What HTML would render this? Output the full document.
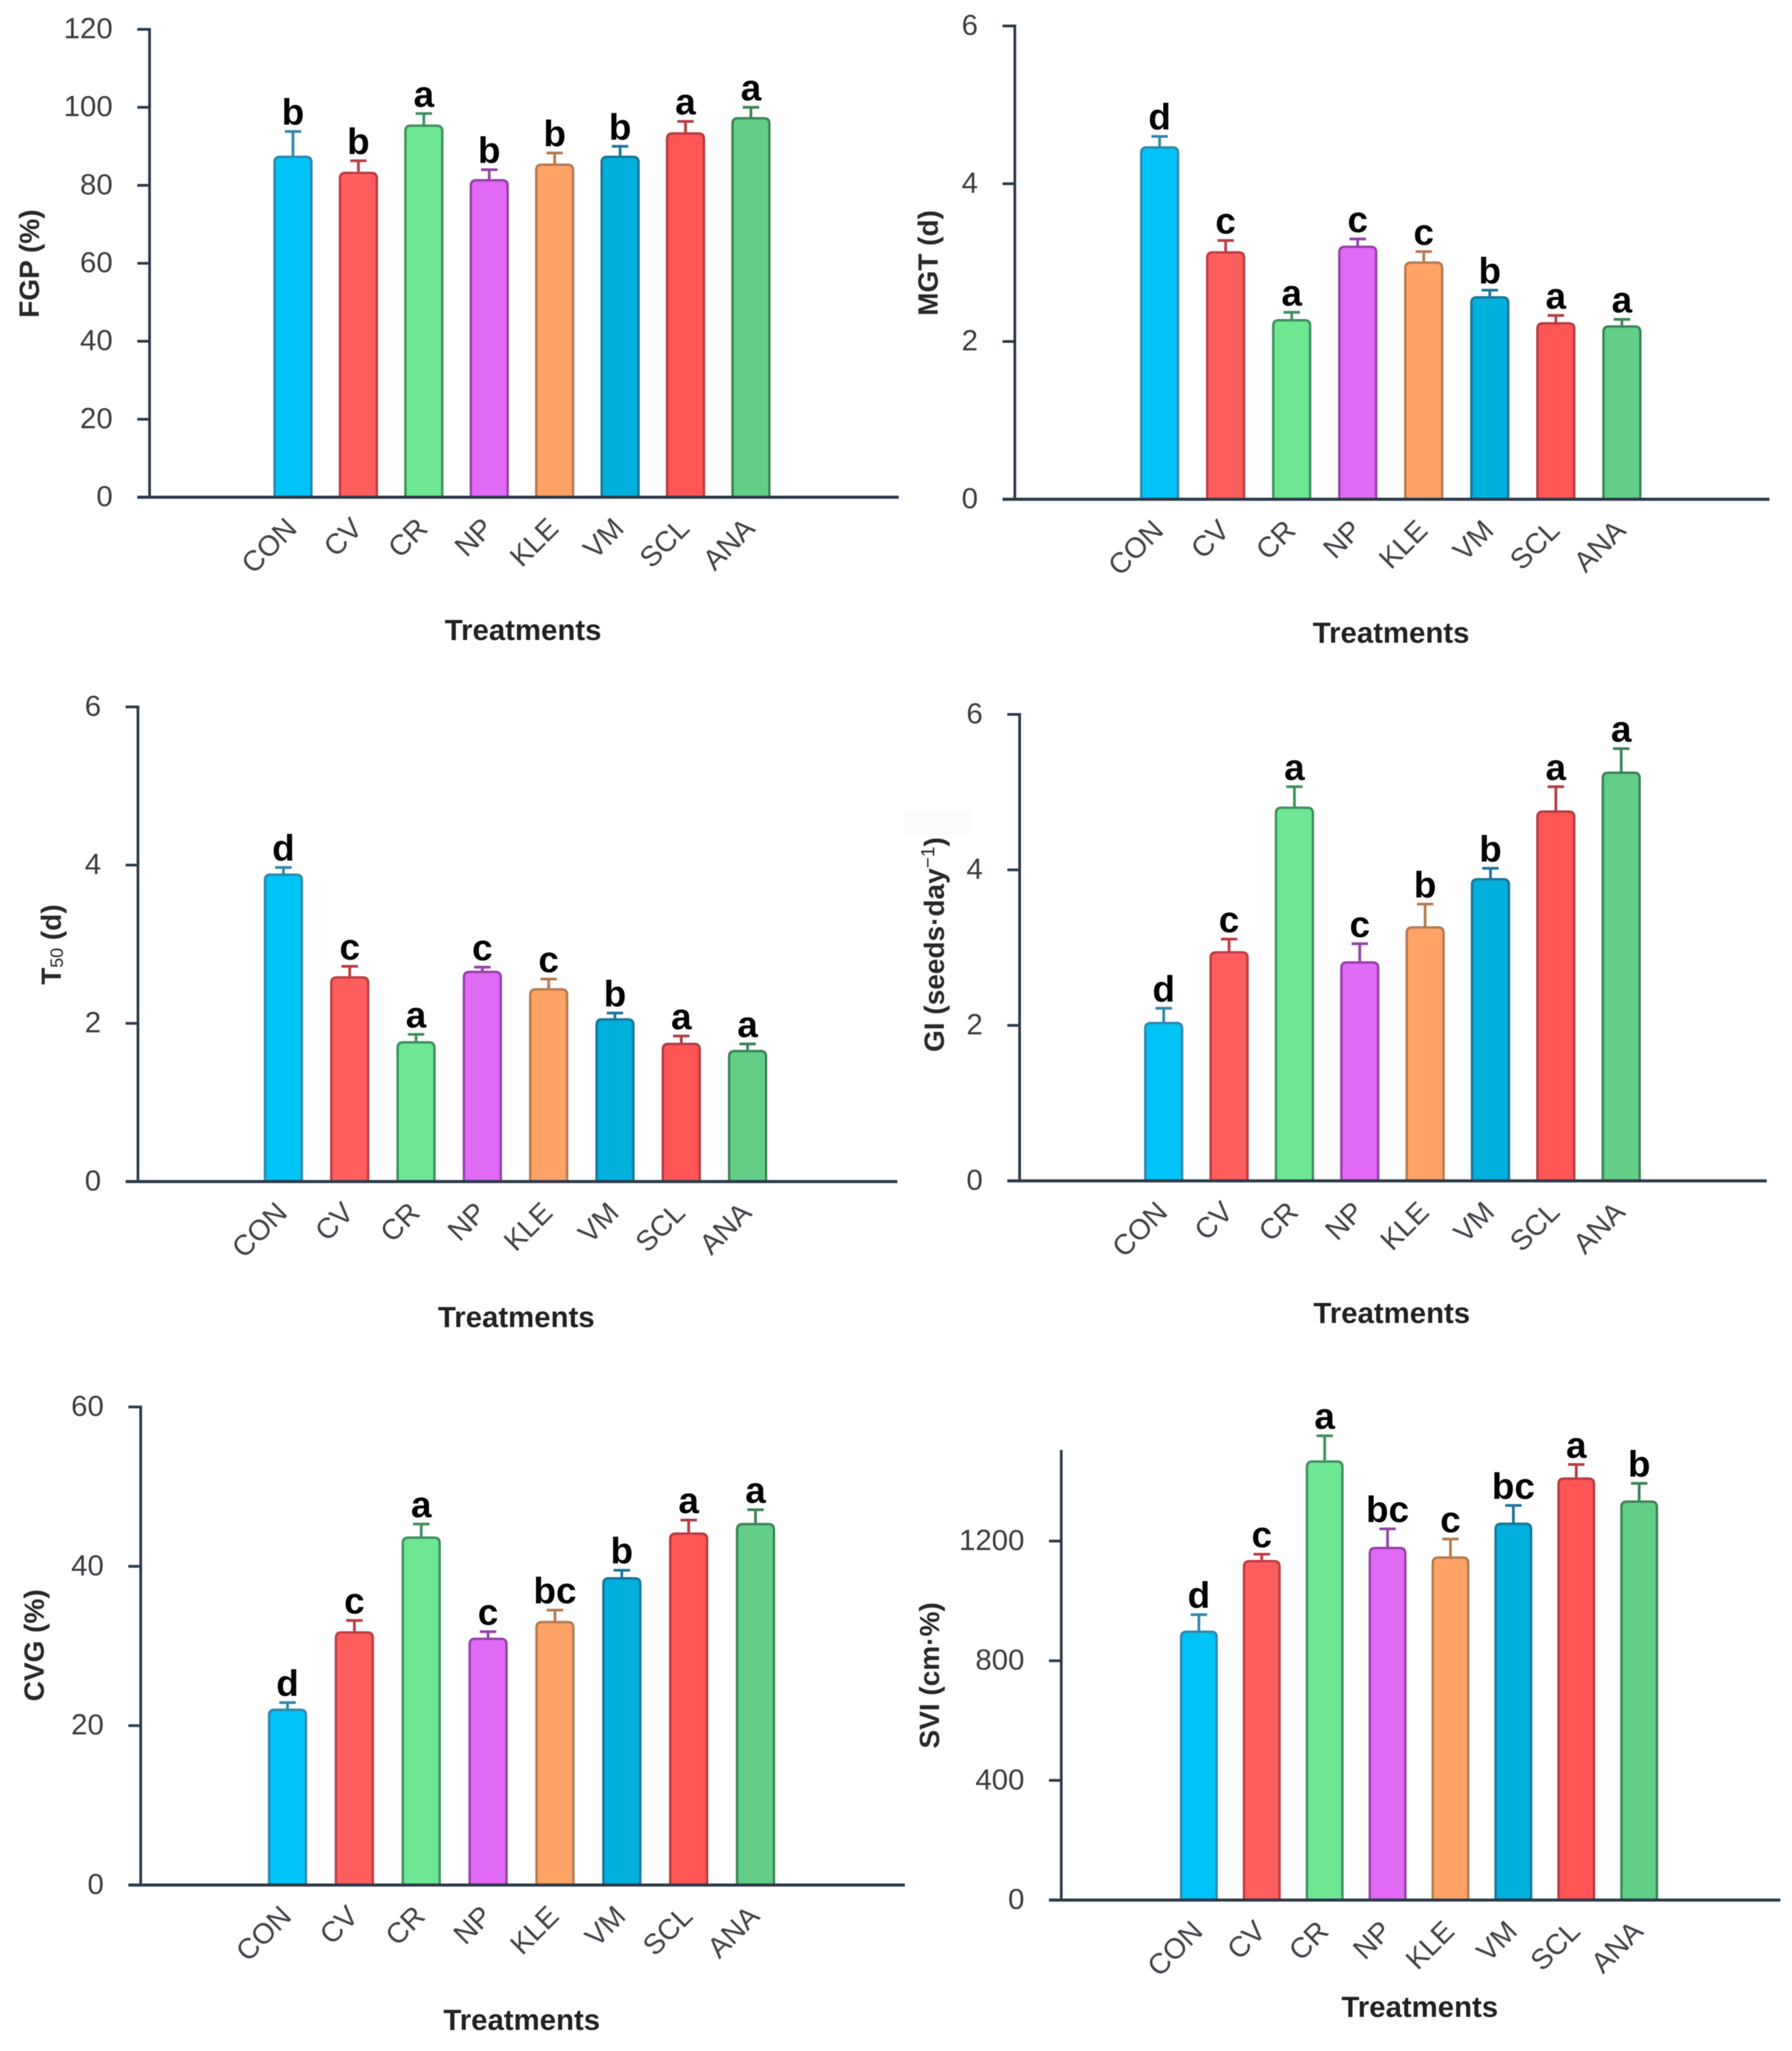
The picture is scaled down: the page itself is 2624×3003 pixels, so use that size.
<!DOCTYPE html>
<html lang="en">
<head>
<meta charset="utf-8">
<title>Germination treatment bar charts</title>
<style>
  html, body { margin: 0; padding: 0; background: #ffffff; }
  body { width: 2624px; height: 3003px; overflow: hidden; }
  svg { display: block; filter: blur(0.6px); }
  text { font-family: "Liberation Sans", sans-serif; }
  .tick { font-size: 43px; fill: #3a3d42; }
  .cat { font-size: 42px; fill: #404348; }
  .title { font-size: 41px; font-weight: 700; fill: #26282b; }
  .xtitle { font-size: 43px; font-weight: 700; fill: #1f2124; }
  .sig { font-size: 54px; font-weight: 700; fill: #000000; }
</style>
</head>
<body>
<svg id="figure" xmlns="http://www.w3.org/2000/svg" width="2624" height="3003" viewBox="0 0 2624 3003">
  <rect x="0" y="0" width="2624" height="3003" fill="#ffffff"></rect>
  <rect x="1324" y="1186" width="97" height="36" fill="#fbfbfb"></rect>
</svg>
<script>
const categories = ["CON", "CV", "CR", "NP", "KLE", "VM", "SCL", "ANA"];

const fgpValues = [87.3, 83.2, 95.3, 81.3, 85.3, 87.3, 93.3, 97.2];
const fgpErrors = [93.8, 86.3, 98.4, 84, 88.3, 90, 96.4, 100];
const fgpLetters = ["b", "b", "a", "b", "b", "b", "a", "a"];
const fgpTicks = [0, 20, 40, 60, 80, 100, 120];

const mgtValues = [4.46, 3.13, 2.27, 3.2, 3.0, 2.56, 2.23, 2.19];
const mgtErrors = [4.6, 3.28, 2.37, 3.3, 3.14, 2.65, 2.33, 2.28];
const mgtLetters = ["d", "c", "a", "c", "c", "b", "a", "a"];
const mgtTicks = [0, 2, 4, 6];

const t50Values = [3.88, 2.58, 1.76, 2.65, 2.43, 2.05, 1.74, 1.65];
const t50Errors = [3.97, 2.72, 1.86, 2.71, 2.56, 2.13, 1.84, 1.74];
const t50Letters = ["d", "c", "a", "c", "c", "b", "a", "a"];
const t50Ticks = [0, 2, 4, 6];

const giValues = [2.03, 2.94, 4.8, 2.81, 3.26, 3.88, 4.75, 5.25];
const giErrors = [2.22, 3.11, 5.07, 3.05, 3.56, 4.02, 5.07, 5.56];
const giLetters = ["d", "c", "a", "c", "b", "b", "a", "a"];
const giTicks = [0, 2, 4, 6];

const cvgValues = [22, 31.7, 43.6, 30.9, 33, 38.5, 44.1, 45.3];
const cvgErrors = [22.9, 33.2, 45.3, 31.8, 34.5, 39.5, 45.8, 47.1];
const cvgLetters = ["d", "c", "a", "c", "bc", "b", "a", "a"];
const cvgTicks = [0, 20, 40, 60];

const sviValues = [897, 1133, 1466, 1177, 1145, 1258, 1409, 1332];
const sviErrors = [954, 1156, 1552, 1241, 1207, 1319, 1456, 1393];
const sviLetters = ["d", "c", "a", "bc", "c", "bc", "a", "b"];
const sviTicks = [0, 400, 800, 1200];

const barFills = ["#00C3F7", "#FF5E5E", "#6EE793", "#E069F5", "#FFA366", "#00B0DD", "#FF5555", "#63CE86"];
const barStrokes = ["#2F88AC", "#BE3C42", "#3F8F5F", "#9640A8", "#B67A50", "#19759A", "#B53A42", "#3A8356"];

const panels = [
  { id: "fgp", values: fgpValues, errors: fgpErrors, letters: fgpLetters, ticks: fgpTicks, yMax: 120,
    axisX: 219, top: 43, zero: 728, right: 1316, first: 429, step: 95.8, barW: 54,
    title: [["FGP (%)"]], titleX: 57, titleY: 386, xTitleX: 766, xTitleY: 937 },
  { id: "mgt", values: mgtValues, errors: mgtErrors, letters: mgtLetters, ticks: mgtTicks, yMax: 6,
    axisX: 1486, top: 38, zero: 731, right: 2591, first: 1698, step: 96.7, barW: 54,
    title: [["MGT (d)"]], titleX: 1373, titleY: 385, xTitleX: 2037, xTitleY: 941 },
  { id: "t50", values: t50Values, errors: t50Errors, letters: t50Letters, ticks: t50Ticks, yMax: 6,
    axisX: 202, top: 1035, zero: 1730, right: 1314, first: 415, step: 97.1, barW: 54,
    title: [["T"], ["50", "sub"], [" (d)"]], titleX: 89, titleY: 1383, xTitleX: 756, xTitleY: 1943 },
  { id: "gi", values: giValues, errors: giErrors, letters: giLetters, ticks: giTicks, yMax: 6,
    axisX: 1493, top: 1046, zero: 1729, right: 2587, first: 1704, step: 95.7, barW: 54,
    title: [["GI (seeds\u00B7day"], ["\u22121", "sup"], [")"]], titleX: 1382, titleY: 1383, xTitleX: 2038, xTitleY: 1937 },
  { id: "cvg", values: cvgValues, errors: cvgErrors, letters: cvgLetters, ticks: cvgTicks, yMax: 60,
    axisX: 206, top: 2060, zero: 2760, right: 1325, first: 421, step: 97.9, barW: 54,
    title: [["CVG (%)"]], titleX: 64, titleY: 2409, xTitleX: 764, xTitleY: 2972 },
  { id: "svi", values: sviValues, errors: sviErrors, letters: sviLetters, ticks: sviTicks, yMax: 1500,
    axisX: 1554, top: 2125, zero: 2782, right: 2607, first: 1755.5, step: 92.1, barW: 52,
    title: [["SVI (cm\u00B7%)"]], titleX: 1375, titleY: 2453, xTitleX: 2079, xTitleY: 2953 }
];

const NS = "http://www.w3.org/2000/svg";
const svgRoot = document.getElementById("figure");
const axisColor = "#2C3A4A";

function make(tag, attrs, parent, content) {
  const node = document.createElementNS(NS, tag);
  for (const key in attrs) node.setAttribute(key, attrs[key]);
  if (content !== undefined) node.textContent = content;
  parent.appendChild(node);
  return node;
}

function drawPanel(p) {
  const g = make("g", {}, svgRoot);
  
  

  const yScale = v => p.zero - (v / p.yMax) * (p.zero - p.top);
  const xScale = i => p.first + i * p.step;
  const tickLeft = p.axisX - 18;

  p.ticks.forEach(t => {
    const y = yScale(t);
    const mark = make("line", { x1: tickLeft, x2: p.axisX, y1: y, y2: y, stroke: axisColor, "stroke-width": 4 }, g);
    
    
    const label = make("text", { x: tickLeft - 36, y: y + 13, "text-anchor": "end", class: "tick" }, g, String(t));
    
    
  });

  categories.forEach((c, i) => {
    const cx = xScale(i);
    const half = p.barW / 2;
    const yTop = yScale(p.values[i]);
    const yErr = yScale(p.errors[i]);

    const err = make("path", {
      d: "M" + cx + " " + yTop + "V" + yErr + "M" + (cx - 12) + " " + yErr + "H" + (cx + 12),
      fill: "none", stroke: barStrokes[i], "stroke-width": 4
    }, g);
    
    

    const r = 8;
    const bar = make("path", {
      d: "M" + (cx - half) + " " + p.zero + "V" + (yTop + r) +
         "Q" + (cx - half) + " " + yTop + " " + (cx - half + r) + " " + yTop +
         "H" + (cx + half - r) +
         "Q" + (cx + half) + " " + yTop + " " + (cx + half) + " " + (yTop + r) +
         "V" + p.zero + "Z",
      fill: barFills[i], stroke: barStrokes[i], "stroke-width": 3.5
    }, g);
    
    

    const sig = make("text", { x: cx, y: yErr - 10, "text-anchor": "middle", class: "sig" }, g, p.letters[i]);
    
    

    const px = cx + 8;
    const py = p.zero + 48;
    const cat = make("text", { x: px, y: py, "text-anchor": "end", class: "cat", transform: "rotate(-45 " + px + " " + py + ")" }, g, c);
    
    
  });

  const yAxis = make("line", { x1: p.axisX, x2: p.axisX, y1: p.top - 2, y2: p.zero + 2, stroke: axisColor, "stroke-width": 4 }, g);
  
  

  const xAxis = make("line", { x1: tickLeft, x2: p.right, y1: p.zero, y2: p.zero, stroke: axisColor, "stroke-width": 4.5 }, g);
  
  

  const yTitle = make("text", {
    x: p.titleX, y: p.titleY, "text-anchor": "middle", class: "title",
    transform: "rotate(-90 " + p.titleX + " " + p.titleY + ")"
  }, g);
  
  
  p.title.forEach(part => {
    const span = make("tspan", {}, yTitle, part[0]);
    if (part[1] === "sub") {
      span.setAttribute("font-size", "26");
      span.setAttribute("font-weight", "400");
      span.setAttribute("dy", "3");
    }
    if (part[1] === "sup") {
      span.setAttribute("font-size", "28");
      span.setAttribute("font-weight", "400");
      span.setAttribute("dy", "-14");
    }
    if (part !== p.title[0] && !part[1]) {
      const prev = p.title[p.title.indexOf(part) - 1];
      span.setAttribute("dy", prev[1] === "sup" ? "14" : "-3");
    }
  });

  const xTitle = make("text", { x: p.xTitleX, y: p.xTitleY, "text-anchor": "middle", class: "xtitle" }, g, "Treatments");
  
  
}

panels.forEach(drawPanel);
</script>
</body>
</html>
